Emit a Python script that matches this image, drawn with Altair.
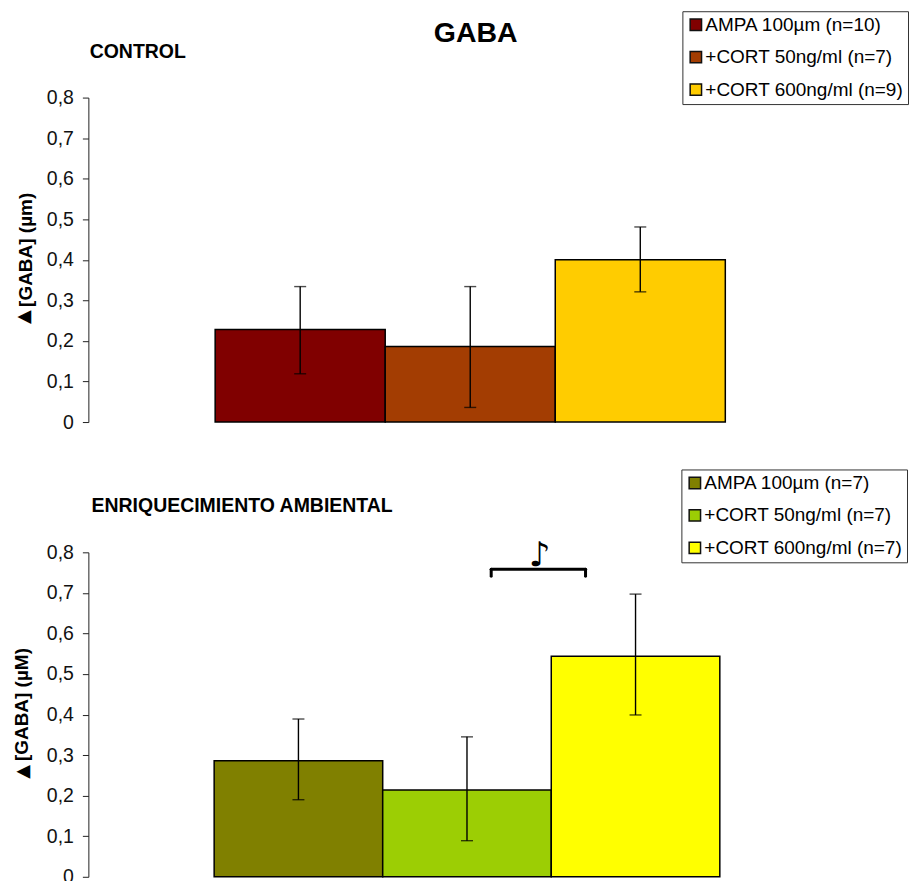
import altair as alt
import pandas as pd

ticks = [0, 0.1, 0.2, 0.3, 0.4, 0.5, 0.6, 0.7, 0.8]
FONT = "Liberation Sans"

top_labels = ["AMPA 100µm (n=10)", "+CORT 50ng/ml (n=7)", "+CORT 600ng/ml (n=9)"]
top_values = [0.228, 0.186, 0.400]
top_low = [0.119, 0.036, 0.321]
top_high = [0.334, 0.334, 0.481]
top_colors = ["#800000", "#A33D02", "#FFCC00"]

bot_labels = ["AMPA 100µm (n=7)", "+CORT 50ng/ml (n=7)", "+CORT 600ng/ml (n=7)"]
bot_values = [0.286, 0.214, 0.544]
bot_low = [0.190, 0.089, 0.399]
bot_high = [0.389, 0.345, 0.697]
bot_colors = ["#808000", "#9CCE04", "#FFFF00"]


def label(text, x, y, size=19.5, font=FONT, weight="bold", angle=0):
    return alt.Chart(pd.DataFrame({"t": [text]})).mark_text(
        font=font, fontSize=size, fontWeight=weight, align="center", baseline="middle",
        color="black", angle=angle
    ).encode(x=alt.value(x), y=alt.value(y), text="t:N")


def panel(labels, values, low, high, colors, xrange, ytitle, legend_x, legend_y, title_pad, extras):
    df = pd.DataFrame({"c": labels, "v": values, "lo": low, "hi": high})
    x = alt.X("c:N", sort=labels, axis=None,
              scale=alt.Scale(range=xrange, paddingInner=0, paddingOuter=0))
    y_scale = alt.Scale(domain=[0, 0.8], nice=False)
    y_axis = alt.Axis(
        title=ytitle, values=ticks, grid=False, domainColor="#222", tickColor="#222",
        domainWidth=1, tickWidth=1, tickSize=6, labelPadding=9, titlePadding=title_pad, titleY=152,
        labelExpr="datum.value == 0 ? '0' : replace(format(datum.value, '.1f'), '.', ',')",
        labelFont=FONT, labelFontSize=19.5, labelColor="#111",
        titleFont=FONT, titleFontSize=19, titleFontWeight="bold", titleColor="black")
    bars = alt.Chart(df).mark_bar(stroke="black", strokeWidth=1.5).encode(
        x=x, y=alt.Y("v:Q", scale=y_scale, axis=y_axis),
        color=alt.Color("c:N", sort=labels, scale=alt.Scale(domain=labels, range=colors), legend=alt.Legend(
            title=None, orient="none", legendX=legend_x, legendY=legend_y,
            fillColor="white", strokeColor="#333", padding=4,
            symbolType="square", symbolSize=130, symbolStrokeColor="#111", symbolStrokeWidth=1.5,
            labelFont=FONT, labelFontSize=19, labelColor="black", rowPadding=12.5, labelOffset=0,
            labelLimit=300)))
    rule = alt.Chart(df).mark_rule(color="black", strokeWidth=1.4).encode(
        x=x, y=alt.Y("lo:Q", scale=y_scale, axis=y_axis), y2="hi:Q")
    caps_lo = alt.Chart(df).mark_tick(color="black", size=12, thickness=1.4, orient="horizontal").encode(
        x=x, y=alt.Y("lo:Q", scale=y_scale, axis=y_axis))
    caps_hi = alt.Chart(df).mark_tick(color="black", size=12, thickness=1.4, orient="horizontal").encode(
        x=x, y=alt.Y("hi:Q", scale=y_scale, axis=y_axis))
    return alt.layer(bars, rule, caps_lo, caps_hi, *extras).properties(width=810, height=325)


top_extras = [
    label("GABA", 388, -65, size=28.5),
    label("CONTROL", 49.5, -45.5),
    label("▲", -64, 220, size=18, font="DejaVu Sans", angle=270),
]


def bracket_h(x1, x2, y):
    return alt.Chart(pd.DataFrame({"y": [y]})).mark_rule(color="black", strokeWidth=3, strokeCap="round").encode(
        x=alt.value(x1), x2=alt.value(x2), y=alt.value(y))


def bracket_v(x, y1, y2):
    return alt.Chart(pd.DataFrame({"y": [y1]})).mark_rule(color="black", strokeWidth=3, strokeCap="round").encode(
        x=alt.value(x), y=alt.value(y1), y2=alt.value(y2))


bot_extras = [
    label("ENRIQUECIMIENTO AMBIENTAL", 154, -46),
    bracket_h(403.5, 498, 17),
    bracket_v(403.5, 17, 24),
    bracket_v(498, 17, 24),
    label("♪", 452, 4, size=34, font="DejaVu Sans"),
    label("▲", -65, 220, size=18, font="DejaVu Sans", angle=270),
]

top = panel(top_labels, top_values, top_low, top_high, top_colors, [127, 638],
            "[GABA] (µm)", 595, -86.5, 11, top_extras)
bot = panel(bot_labels, bot_values, bot_low, bot_high, bot_colors, [126, 632.5],
            "[GABA] (µM)", 594, -83, 15, bot_extras)

chart = alt.vconcat(top, bot, spacing=36.5).resolve_scale(
    color="independent"
).properties(
    padding={"left": 3.5, "top": 2, "right": 0, "bottom": 0}, background="white"
).configure_view(stroke=None)

chart.save("out.html", embed_options={"renderer": "svg", "actions": False})
